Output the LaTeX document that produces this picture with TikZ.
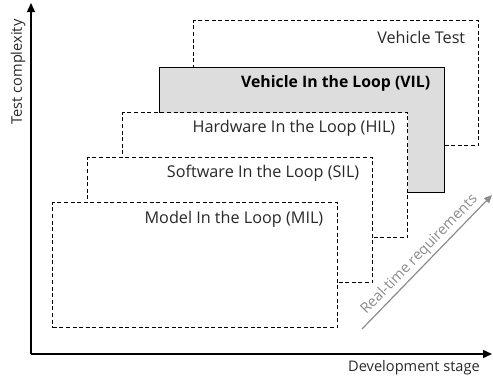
\documentclass[tikz,border=0pt]{standalone}
\usepackage{fontspec}
\setmainfont{Open Sans}
\usetikzlibrary{arrows.meta,calc}
\definecolor{vilgray}{RGB}{221,221,221}
\definecolor{rtgray}{RGB}{140,140,140}
\definecolor{txtgray}{RGB}{40,40,40}
\begin{document}
\begin{tikzpicture}[x=1pt,y=-1pt,
  stage/.style={rectangle, draw=black, fill=white, line width=1.4pt,
    dash pattern=on 4pt off 2.6pt, minimum width=285pt, minimum height=125pt,
    anchor=north west, inner sep=0pt},
  vilbox/.style={stage, solid, fill=vilgray},
  stagetext/.style={anchor=east, inner sep=0pt, text=txtgray, font=\fontsize{16.2}{19}\selectfont},
  axislabel/.style={inner sep=0pt, text=txtgray, font=\fontsize{14.6}{17}\selectfont},
  axis/.style={line width=1.4pt, -{Triangle[length=9pt,width=8pt]}}
]
\useasboundingbox (0,0) rectangle (493,378);
% axes
\coordinate (origin) at (31,354);
\coordinate (ytip) at (31,3);
\coordinate (xtip) at (492,354);
\draw[axis] (origin) -- (ytip);
\draw[axis] (origin) -- (xtip);
\node[axislabel, rotate=90] (ylab) at (18,72) {Test complexity};
\node[axislabel] (xlab) at (414,368) {Development stage};
% stages
\node[stage] (vt) at (193,20) {};
\node[stagetext] (vtl) at ($(vt.north east)+(-14,17)$) {Vehicle Test};
\node[vilbox] (vil) at (159,67) {};
\node[stagetext, font=\fontsize{15.8}{19}\selectfont\bfseries, text=black] (vill) at ($(vil.north east)+(-15,16)$) {Vehicle In the Loop (VIL)};
\node[stage] (hil) at (122,112) {};
\node[stagetext] (hill) at ($(hil.north east)+(-13,16)$) {Hardware In the Loop (HIL)};
\node[stage] (sil) at (87,157) {};
\node[stagetext] (sill) at ($(sil.north east)+(-14,16)$) {Software In the Loop (SIL)};
\node[stage] (mil) at (52,202) {};
\node[stagetext] (mill) at ($(mil.north east)+(-15,17)$) {Model In the Loop (MIL)};
% real-time arrow
\coordinate (rtstart) at (362,329);
\coordinate (rtend) at (492,195);
\draw[rtgray, line width=1.2pt, -{Triangle[length=8pt,width=7pt]}] (rtstart) -- node[sloped, above=2.5pt, pos=0.5, axislabel, text=rtgray] (rtl) {Real-time requirements} (rtend);
\end{tikzpicture}
\end{document}
